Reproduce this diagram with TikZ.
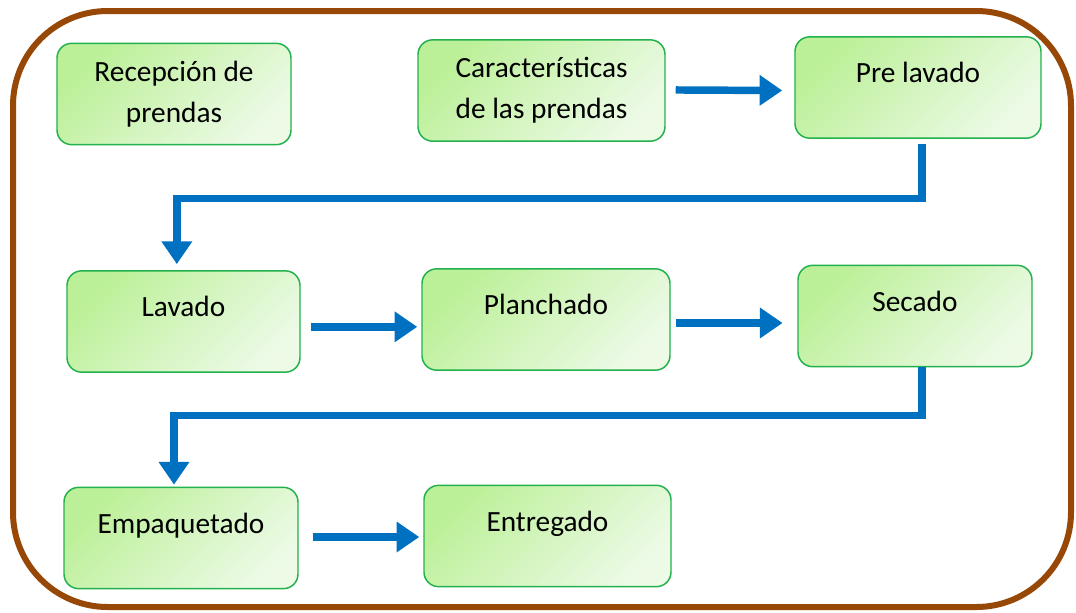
\documentclass[tikz,border=0pt]{standalone}
\usepackage{fontspec}
\setmainfont{Carlito}
\usepackage{tikz}
\usetikzlibrary{arrows.meta}

\definecolor{marco}{RGB}{151,72,7}
\definecolor{borde}{RGB}{34,177,76}
\definecolor{verdeA}{RGB}{188,240,152}
\definecolor{verdeB}{RGB}{236,250,230}
\definecolor{flecha}{RGB}{0,112,192}

\begin{document}
\begin{tikzpicture}[x=0.75pt, y=-0.75pt,
		paso/.style={draw=borde, line width=1.1pt, rounded corners=11pt, top color=verdeA, bottom color=verdeB, shading angle=45, minimum height=76pt, align=center, font=\fontsize{22}{30.75}\selectfont},
		unalinea/.style={text height=16pt, text depth=23pt},
		flujo/.style={draw=flecha, line width=5.6pt, -{Triangle[length=17pt, width=22pt]}}]
		\useasboundingbox (0,0) rectangle (1076,612);
		
		% marco exterior
		\draw[marco, line width=4.5pt, rounded corners=71pt] (13,11) rectangle (1071,607);
		
		% etapas
		\node[paso, minimum width=175.5pt] (recepcion) at (174,94) {Recepción de\\prendas};
		\node[paso, minimum width=185.25pt] (caract) at (541.5,90.5) {Características\\de las prendas};
		\node[paso, unalinea, minimum width=184.5pt] (prelavado) at (918,87.5) {Pre lavado};
		\node[paso, unalinea, minimum width=174.75pt] (lavado) at (183.5,321.5) {Lavado};
		\node[paso, unalinea, minimum width=186pt] (planchado) at (546,319.5) {Planchado};
		\node[paso, unalinea, minimum width=175.5pt] (secado) at (915,316) {Secado};
		\node[paso, unalinea, minimum width=175.5pt] (empaquetado) at (181,538) {Empaquetado};
		\node[paso, unalinea, minimum width=185.25pt] (entregado) at (547.5,536) {Entregado};
		
		\begin{scope}[flujo]
			\draw ([xshift=7.5pt, yshift=0.4pt]caract.east) -- ([xshift=-9pt]caract.east -| prelavado.west);
			\draw ([xshift=3pt, yshift=-4pt]prelavado.south) -- ++(0,54) -| ([xshift=-5pt, yshift=4.5pt]lavado.north);
			\draw ([xshift=7.5pt, yshift=-4pt]lavado.east) -- ([xshift=-3pt, yshift=-4pt]lavado.east -| planchado.west);
			\draw ([xshift=3.75pt, yshift=-2.6pt]planchado.east) -- ([xshift=-11pt, yshift=-2.6pt]planchado.east -| secado.west);
			\draw ([xshift=5.25pt]secado.south) -- ++(0,48) -| ([xshift=-5.25pt, yshift=1.5pt]empaquetado.north);
			\draw ([xshift=10.5pt, yshift=0.75pt]empaquetado.east) -- ([xshift=-3pt, yshift=0.75pt]empaquetado.east -| entregado.west);
		\end{scope}
	\end{tikzpicture}
\end{document}
